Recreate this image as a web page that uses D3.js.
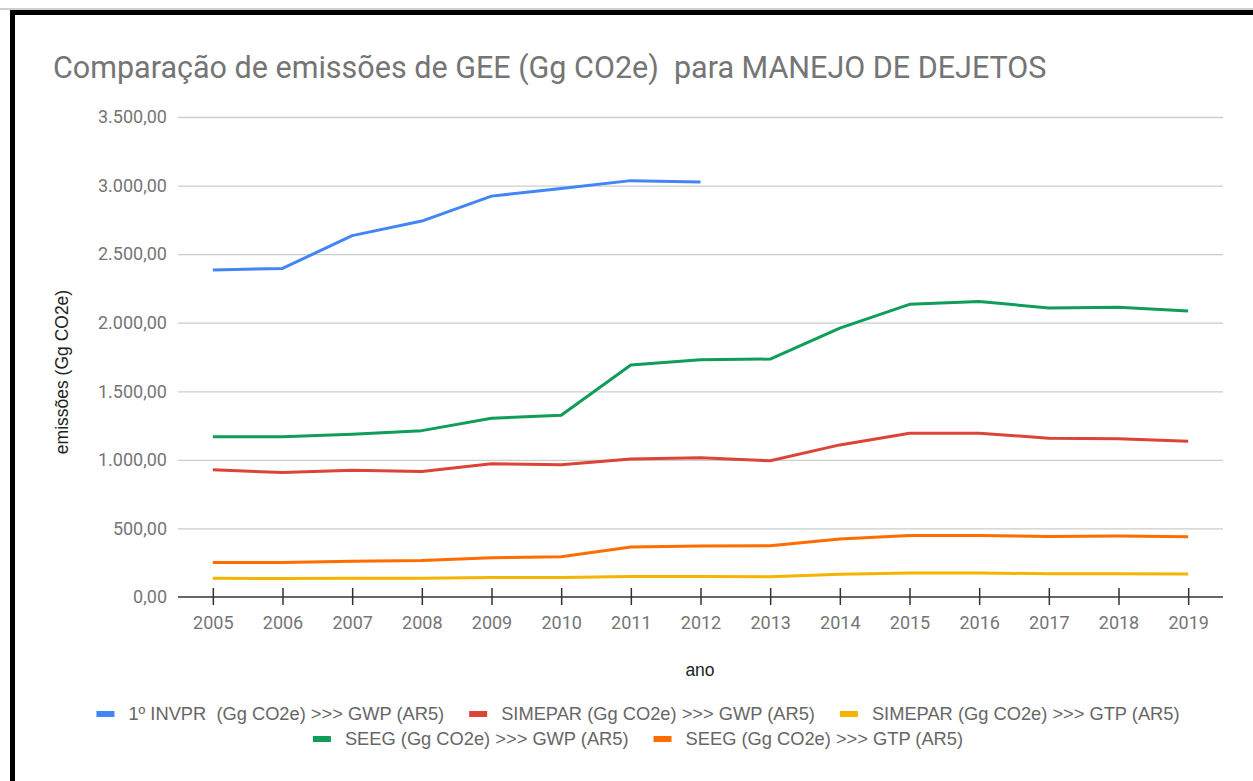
<!DOCTYPE html>
<html>
<head>
<meta charset="utf-8">
<script src="https://cdn.jsdelivr.net/npm/d3@7"></script>
<style>
  html, body { margin: 0; padding: 0; background: #fff; }
  svg { display: block; }
</style>
</head>
<body>
<svg id="chart" width="1253" height="781"></svg>
<script>
// Anos do eixo X
const years = [2005, 2006, 2007, 2008, 2009, 2010, 2011, 2012, 2013, 2014, 2015, 2016, 2017, 2018, 2019];

// Séries de emissões (Gg CO2e)
const invprGWP   = [2384, 2396, 2635, 2741, 2923, 2978, 3036, 3026];
const simeparGWP = [927, 908, 925, 915, 971, 964, 1007, 1015, 993, 1109, 1194, 1194, 1158, 1153, 1136];
const simeparGTP = [136, 134, 136, 136, 143, 143, 150, 150, 147, 165, 175, 175, 170, 170, 167];
const seegGWP    = [1168, 1169, 1187, 1213, 1303, 1325, 1692, 1730, 1735, 1961, 2134, 2154, 2108, 2113, 2086];
const seegGTP    = [252, 252, 260, 267, 287, 294, 364, 372, 374, 423, 449, 449, 442, 445, 440];

const seriesNames = [
  "1º INVPR  (Gg CO2e) >>> GWP (AR5)",
  "SIMEPAR (Gg CO2e) >>> GWP (AR5)",
  "SIMEPAR (Gg CO2e) >>> GTP (AR5)",
  "SEEG (Gg CO2e) >>> GWP (AR5)",
  "SEEG (Gg CO2e) >>> GTP (AR5)"
];
const seriesColors = ["#4285F4", "#DB4437", "#F4B400", "#0F9D58", "#FF6D00"];
const seriesValues = [invprGWP, simeparGWP, simeparGTP, seegGWP, seegGTP];

const yTicks = [0, 500, 1000, 1500, 2000, 2500, 3000, 3500];

const svg = d3.select("#chart");

// Moldura preta (esquerda e topo)
svg.append("line").attr("x1", 0).attr("x2", 1253).attr("y1", 9).attr("y2", 9)
  .attr("stroke", "#9e9e9e").attr("stroke-width", 1);
svg.append("line").attr("x1", 12.5).attr("x2", 1253).attr("y1", 12.5).attr("y2", 12.5)
  .attr("stroke", "#000").attr("stroke-width", 5);
svg.append("line").attr("x1", 12.5).attr("x2", 12.5).attr("y1", 10).attr("y2", 781)
  .attr("stroke", "#000").attr("stroke-width", 5);

const plot = { left: 178, right: 1223, top: 117, bottom: 597 };

const x = d3.scalePoint().domain(years).range([plot.left, plot.right]).padding(0.5);
const y = d3.scaleLinear().domain([0, 3500]).range([plot.bottom, plot.top]);

const ptBR = d3.formatLocale({ decimal: ",", thousands: ".", grouping: [3], currency: ["R$", ""] });
const fmt = ptBR.format(",.2f");

// Título
svg.append("text")
  .attr("x", 53).attr("y", 78)
  .attr("font-family", "Roboto, sans-serif")
  .attr("font-size", 30.5)
  .attr("fill", "#757575")
  .attr("xml:space", "preserve")
  .style("white-space", "pre")
  .text("Comparação de emissões de GEE (Gg CO2e)  para MANEJO DE DEJETOS");

// Grade e rótulos do eixo Y
const yAxis = d3.axisLeft(y).tickValues(yTicks).tickSize(-(plot.right - plot.left)).tickPadding(11).tickFormat(fmt);
const gy = svg.append("g").attr("transform", `translate(${plot.left},0)`).call(yAxis);
gy.select(".domain").remove();
gy.selectAll(".tick line").attr("stroke", "#cccccc").attr("stroke-width", 1.3);
gy.selectAll(".tick").filter(d => d === 0).select("line").remove();
gy.selectAll(".tick text")
  .attr("font-family", "Roboto, sans-serif").attr("font-size", 18).attr("fill", "#757575");

// Linhas das séries
const line = d3.line().x((d, i) => x(years[i])).y(d => y(d));
seriesValues.forEach((vals, k) => {
  svg.append("path")
    .datum(vals)
    .attr("fill", "none")
    .attr("stroke", seriesColors[k])
    .attr("stroke-width", 3)
    .attr("stroke-linejoin", "round")
    .attr("d", line);
});

// Eixo X
const xAxis = d3.axisBottom(x).tickSizeInner(0).tickSizeOuter(0).tickPadding(19);
const gx = svg.append("g").attr("transform", `translate(0,${plot.bottom})`).call(xAxis);
gx.select(".domain").attr("d", `M${plot.left},0H${plot.right}`).attr("stroke", "#333").attr("stroke-width", 1.5);
gx.selectAll(".tick").append("line").attr("y1", -9).attr("y2", 8).attr("stroke", "#333").attr("stroke-width", 1.5);
gx.selectAll(".tick text")
  .attr("font-family", "Roboto, sans-serif").attr("font-size", 18).attr("fill", "#757575");

// Títulos dos eixos
svg.append("text")
  .attr("x", 700).attr("y", 676)
  .attr("text-anchor", "middle")
  .attr("font-family", "Liberation Sans, Arial, sans-serif")
  .attr("font-size", 17.5).attr("fill", "#222")
  .text("ano");
svg.append("text")
  .attr("transform", "translate(68,372) rotate(-90)")
  .attr("text-anchor", "middle")
  .attr("font-family", "Liberation Sans, Arial, sans-serif")
  .attr("font-size", 17.5).attr("fill", "#222")
  .text("emissões (Gg CO2e)");

// Legenda em duas linhas, centralizada
const legendRows = [[0, 1, 2], [3, 4]];
const legendRowY = [714, 739];
const swW = 18, swH = 6, swGap = 14, itemGap = 25, legendCenter = 638;
legendRows.forEach((row, r) => {
  const g = svg.append("g");
  let cx = 0;
  row.forEach(k => {
    g.append("rect").attr("x", cx).attr("y", legendRowY[r] - swH / 2).attr("width", swW).attr("height", swH)
      .attr("fill", seriesColors[k]);
    const t = g.append("text")
      .attr("x", cx + swW + swGap).attr("y", legendRowY[r]).attr("dy", "0.35em")
      .attr("font-family", "Liberation Sans, Arial, sans-serif")
      .attr("font-size", 18.3).attr("fill", "#666")
      .attr("xml:space", "preserve").style("white-space", "pre")
      .text(seriesNames[k]);
    cx += swW + swGap + t.node().getComputedTextLength() + itemGap;
  });
  const total = cx - itemGap;
  g.attr("transform", `translate(${legendCenter - total / 2},0)`);
});
</script>
</body>
</html>
